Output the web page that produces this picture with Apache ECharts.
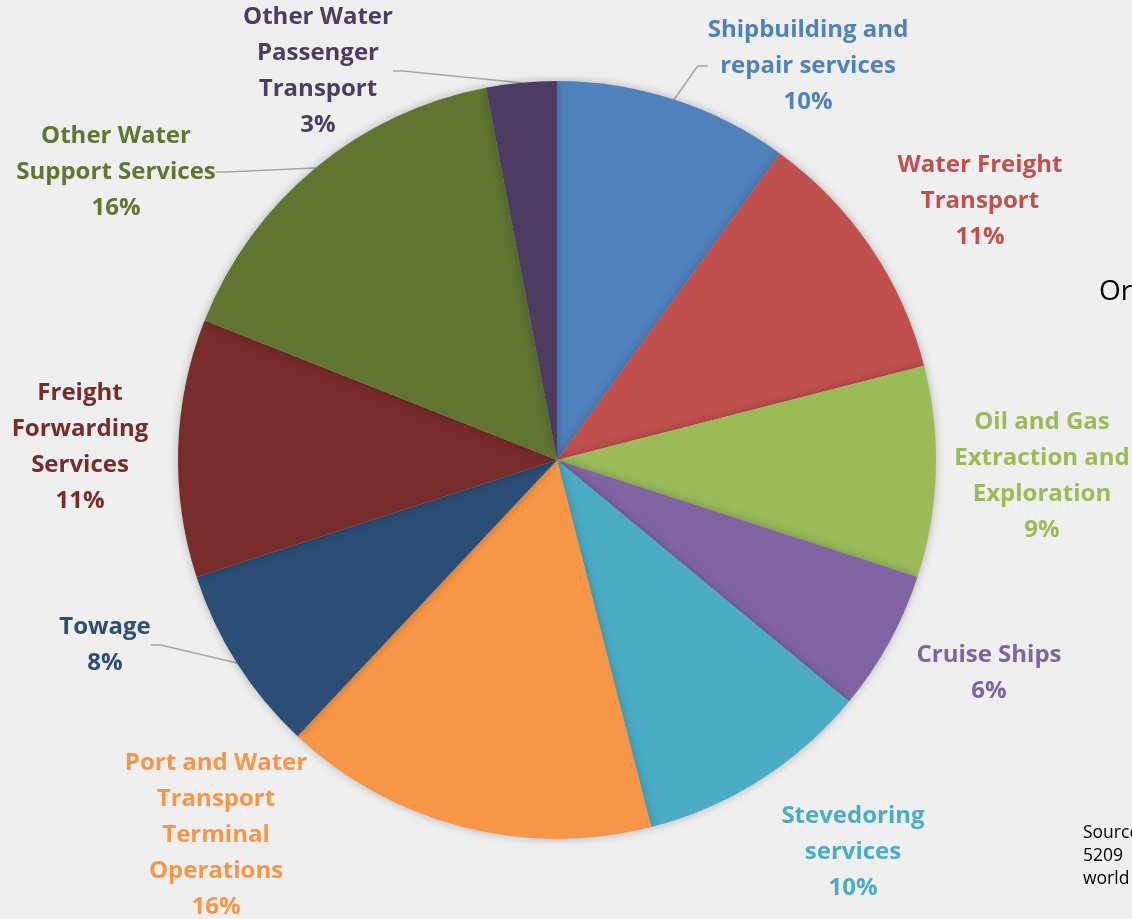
<!DOCTYPE html>
<html>
<head>
<meta charset="utf-8">
<script src="https://cdn.jsdelivr.net/npm/echarts@6/dist/echarts.min.js"></script>
<style>
html,body{margin:0;padding:0;background:#efefef;}
#chart{width:1132px;height:919px;}
</style>
</head>
<body>
<div id="chart"></div>
<script>
var categories = [
  'Shipbuilding and\nrepair services',
  'Water Freight\nTransport',
  'Oil and Gas\nExtraction and\nExploration',
  'Cruise Ships',
  'Stevedoring\nservices',
  'Port and Water\nTransport\nTerminal\nOperations',
  'Towage',
  'Freight\nForwarding\nServices',
  'Other Water\nSupport Services',
  'Other Water\nPassenger\nTransport'
];
var shares = [10, 11, 9, 6, 10, 16, 8, 11, 16, 3];
var colors = ['#4f81bd','#c0504d','#9bbb59','#8064a2','#4bacc6','#f79646','#2c4d75','#772c2a','#5f7530','#4d3b62'];
var showLine = [true,false,false,false,false,false,true,false,true,true];
var labelPos = [[808,66],[980,201],[1042,476],[989,673],[853,852],[216,835],[105,645],[80,447],[116,172],[318,71]];

var chart = echarts.init(document.getElementById('chart'));
var data = categories.map(function(n,i){
  return {
    name:n, value:shares[i],
    itemStyle:{color:colors[i]},
    label:{color:colors[i]},
    labelLine:{show:showLine[i]}
  };
});
chart.setOption({
  backgroundColor:'#efefef',
  animation:false,
  graphic:[
    {type:'text', left:1099, top:278, style:{text:'Or', font:'28px "Open Sans"', fill:'#000'}},
    {type:'text', left:1083, top:822, style:{text:'Source\n5209\nworld', font:'17.5px "Open Sans"', lineHeight:23, fill:'#000'}}
  ],
  series:[{
    type:'pie',
    center:[557,460],
    radius:379,
    startAngle:90,
    clockwise:true,
    data:data,
    itemStyle:{shadowBlur:10, shadowColor:'rgba(0,0,0,0.25)'},
    label:{
      position:'outside',
      formatter:function(p){return p.name+'\n'+p.value+'%';},
      fontFamily:'Open Sans',
      fontWeight:'bold',
      fontSize:24,
      lineHeight:36,
      align:'center',
      overflow:'none'
    },
    labelLine:{lineStyle:{color:'#a6a6a6', width:1.5}, length:10, length2:10},
    labelLayout:function(p){
      var q = labelPos[p.dataIndex];
      return {x:q[0], y:q[1], align:'center', verticalAlign:'middle'};
    }
  }]
});
</script>
</body>
</html>
